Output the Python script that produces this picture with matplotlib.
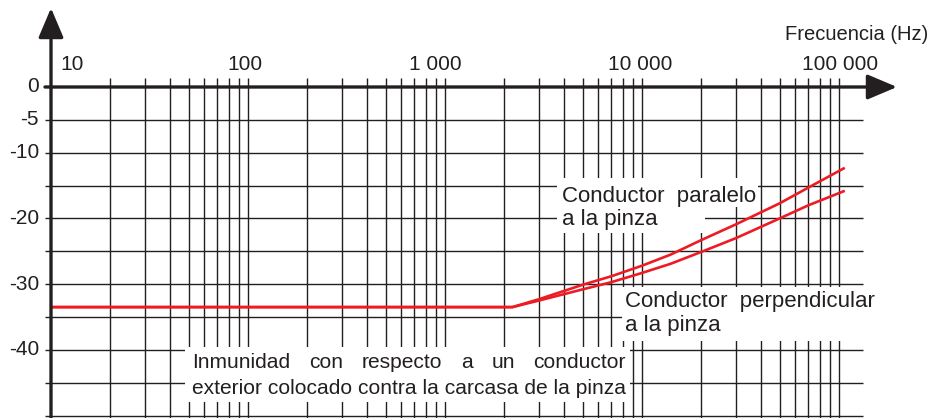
import matplotlib
matplotlib.use('Agg')
import matplotlib.pyplot as plt
import numpy as np
from matplotlib.patches import Rectangle

# ---------------- data ----------------
freq = [10, 2200, 3000, 5000, 7000, 10000, 14000, 20000, 30000, 50000, 70000, 107000]
paralelo = [-33.5, -33.5, -32.3, -30.1, -28.8, -27.2, -25.5, -23.3, -20.9, -17.7, -15.3, -12.3]
perpendicular = [-33.5, -33.5, -32.5, -30.8, -29.7, -28.3, -26.9, -25.1, -23.0, -20.0, -18.0, -15.8]

x_tick_vals = [10, 100, 1000, 10000, 100000]
x_tick_labels = ['10', '100', '1 000', '10 000', '100 000']
y_tick_vals = [0, -5, -10, -20, -30, -40]
y_tick_labels = ['0', '-5', '-10', '-20', '-30', '-40']
y_grid = list(range(-5, -55, -5))
x_label = 'Frecuencia (Hz)'
label_par = ['Conductor  paralelo', 'a la pinza']
label_perp = ['Conductor  perpendicular', 'a la pinza']
label_imm = ['Inmunidad con respecto a un conductor',
             'exterior colocado contra la carcasa de la pinza']

# ---------------- layout helpers (pixel -> data) ----------------
W, H = 939, 418
X10, DEC = 51.0, 197.0     # pixel of 10 Hz, pixels per decade
Y0, PPDB = 87.0, 6.57      # pixel of 0 dB, pixels per dB


def fx(px):
    return 10 ** (1 + (px - X10) / DEC)


def fy(py):
    return -(py - Y0) / PPDB


INK = '#231f20'
RED = '#ed1c24'
FONT = 'Liberation Sans'
FS = 15
FSL = 16
FSI = 15.1

plt.rcParams['font.family'] = [FONT, 'DejaVu Sans']

fig = plt.figure(figsize=(W / 100, H / 100), dpi=100)
ax = fig.add_axes([0, 0, 1, 1])
ax.set_xscale('log')
ax.set_xlim(fx(0), fx(W))
ax.set_ylim(fy(H), fy(0))
ax.axis('off')

# grid
ax.hlines(y_grid, fx(45), fx(863), color=INK, lw=1.0, zorder=1)
vgrid = [m * 10 ** d for d in range(1, 5) for m in range(2, 11)]
ax.vlines(vgrid, fy(H + 2), fy(78), color=INK, lw=1.0, zorder=1)

# axes with arrows
astyle = '-|>,head_length=1.3,head_width=0.55'
ax.annotate('', xy=(10, fy(8)), xytext=(10, fy(H + 2)),
            arrowprops=dict(arrowstyle=astyle, mutation_scale=14, lw=2.4,
                            color=INK, shrinkA=0, shrinkB=0), zorder=6)
ax.annotate('', xy=(fx(897), 0), xytext=(fx(45), 0),
            arrowprops=dict(arrowstyle=astyle, mutation_scale=14, lw=2.4,
                            color=INK, shrinkA=0, shrinkB=0), zorder=6)


# white knock-out boxes behind labels
def knock(x0, x1, y0, y1):
    ax.add_patch(Rectangle((fx(x0), fy(y1)), fx(x1) - fx(x0), fy(y0) - fy(y1),
                           facecolor='white', edgecolor='none', zorder=2))


knock(557, 758, 178, 207)
knock(557, 705, 207, 233)
knock(622, 886, 287, 341)

# curves
ax.plot(freq, paralelo, color=RED, lw=1.9, zorder=4, solid_capstyle='butt')
ax.plot(freq, perpendicular, color=RED, lw=1.9, zorder=4, solid_capstyle='butt')

# tick labels
x_label_px = [72, 245, 435, 640, 840]
for v, lab, px in zip(x_tick_vals, x_tick_labels, x_label_px):
    ax.text(fx(px), fy(64.5), lab, ha='center', va='center', fontsize=FS,
            color=INK, zorder=5)
for v, lab in zip(y_tick_vals, y_tick_labels):
    ax.text(fx(39), v, lab, ha='right', va='center', fontsize=FS,
            color=INK, zorder=5)
ax.text(fx(928), fy(34), x_label, ha='right', va='center', fontsize=FS - 0.5,
        color=INK, zorder=5)

# annotations
tk = dict(fontsize=FSL, color=INK, va='baseline', ha='left', zorder=5)
ax.text(fx(562), fy(202), label_par[0], **tk)
ax.text(fx(562), fy(225), label_par[1], **tk)
ax.text(fx(625), fy(306.5), label_perp[0], **tk)
ax.text(fx(625), fy(331), label_perp[1], **tk)

# immunity label: first line justified to the width of the second
tki = dict(tk, fontsize=FSI)
t2 = ax.text(fx(192), fy(394), label_imm[1], **tki)
fig.canvas.draw()
r = fig.canvas.get_renderer()
bb2 = t2.get_window_extent(r)
left_px, right_px = bb2.x0, bb2.x1
words = label_imm[0].split(' ')
wtexts = [ax.text(0, 0, w, fontsize=FSI) for w in words]
widths = [t.get_window_extent(r).width for t in wtexts]
for t in wtexts:
    t.remove()
gap = (right_px - left_px - sum(widths)) / (len(words) - 1)
cur = left_px
for w, wd in zip(words, widths):
    xd = ax.transData.inverted().transform((cur, 0))[0]
    ax.text(xd, fy(368.3), w, **tki)
    cur += wd + gap
# knock-out box sized to the label
knock(185, right_px + 4, 347, 402)

fig.savefig('out.png', dpi=100, facecolor='white')
